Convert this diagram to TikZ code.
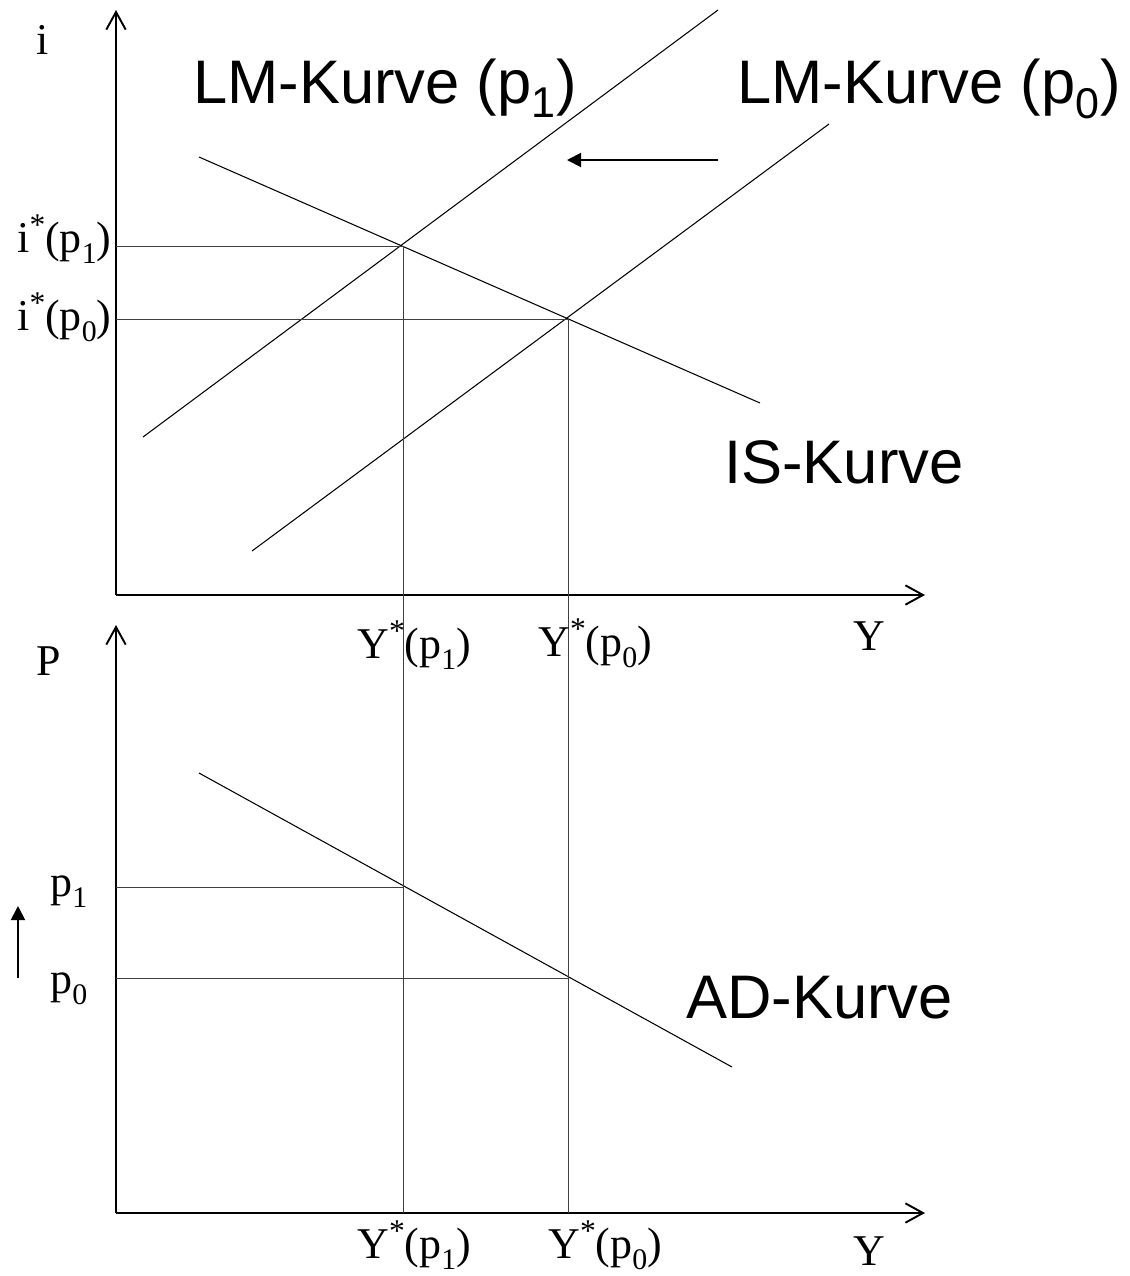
\documentclass[tikz,border=0pt]{standalone}
\usepackage{fontspec}
\setmainfont{Liberation Serif}
\newfontfamily\arialf{Liberation Sans}
\usetikzlibrary{arrows.meta}
\newcommand{\lowsub}[1]{\raisebox{-0.26em}{\fontsize{17}{17}\selectfont #1}}
\newcommand{\highstar}{\raisebox{0.38em}{\fontsize{18}{18}\selectfont *}}
\begin{document}
\begin{tikzpicture}[x=0.02cm,y=-0.02cm,
  axis/.style={line width=1.1pt,-{Straight Barb[length=10pt,width=11pt,line width=1.1pt]}},
  curve/.style={line width=0.6pt},
  guide/.style={line width=0.45pt,black!75},
  shiftarrow/.style={line width=1.1pt,-{Triangle[length=8pt,width=8pt]}},
  serif/.style={font=\fontsize{25}{28}\selectfont,inner sep=0pt,anchor=base west},
  sans/.style={font=\arialf\fontsize{35}{40}\selectfont,inner sep=0pt,anchor=base west}]
\useasboundingbox (0,0) rectangle (1130,1276);
% top panel
\coordinate (O1) at (116,595);
\coordinate (Yt) at (116,10);
\coordinate (Xt) at (925,595);
\draw[axis] (O1) -- (Yt);
\draw[axis] (O1) -- (Xt);
\coordinate (E1) at (403,246);
\coordinate (E0) at (568,319);
\coordinate (LMa) at (143,437);
\coordinate (LMb) at (718,10);
\coordinate (LNa) at (252,551);
\coordinate (LNb) at (829,124);
\coordinate (ISa) at (199,157);
\coordinate (ISb) at (760,403);
\draw[curve] (LMa) -- (LMb);
\draw[curve] (LNa) -- (LNb);
\draw[curve] (ISa) -- (ISb);
\coordinate (G1) at (116,246);
\coordinate (G0) at (116,319);
\draw[guide] (G1) -- (E1);
\draw[guide] (G0) -- (E0);
% bottom panel
\coordinate (O2) at (116,1213);
\coordinate (Yb) at (116,625);
\coordinate (Xb) at (925,1213);
\draw[axis] (O2) -- (Yb);
\draw[axis] (O2) -- (Xb);
\coordinate (ADa) at (199,773);
\coordinate (ADb) at (732,1067);
\draw[curve] (ADa) -- (ADb);
\coordinate (F1) at (403,887);
\coordinate (F0) at (568,978);
\coordinate (H1) at (116,887);
\coordinate (H0) at (116,978);
\draw[guide] (H1) -- (F1);
\draw[guide] (H0) -- (F0);
\coordinate (B1) at (403,1213);
\coordinate (B0) at (568,1213);
\draw[guide] (E1) -- (B1);
\draw[guide] (E0) -- (B0);
% shift arrows
\coordinate (SAa) at (718,160);
\coordinate (SAb) at (567,160);
\draw[shiftarrow] (SAa) -- (SAb);
\coordinate (PAa) at (18,978);
\coordinate (PAb) at (18,906);
\draw[shiftarrow] (PAa) -- (PAb);
% labels
\node[serif] (li) at (36,54) {i};
\node[serif] (li1) at (17,252) {i\highstar(p\lowsub{1})};
\node[serif] (li0) at (17,330) {i\highstar(p\lowsub{0})};
\node[serif] (ly1) at (357,658) {Y\highstar(p\lowsub{1})};
\node[serif] (ly0) at (538,656) {Y\highstar(p\lowsub{0})};
\node[serif] (lY) at (853,650) {Y};
\node[serif] (lP) at (36,675) {P};
\node[serif] (lp1) at (50,896) {p\lowsub{1}};
\node[serif] (lp0) at (50,993) {p\lowsub{0}};
\node[serif] (lz1) at (357,1258) {Y\highstar(p\lowsub{1})};
\node[serif] (lz0) at (548,1258) {Y\highstar(p\lowsub{0})};
\node[serif] (lY2) at (853,1265) {Y};
\node[sans] (lLM1) at (193,103) {LM-Kurve (p\textsubscript{1})};
\node[sans] (lLM0) at (737,103) {LM-Kurve (p\textsubscript{0})};
\node[sans] (lIS) at (724,483) {IS-Kurve};
\node[sans] (lAD) at (686,1018) {AD-Kurve};
\end{tikzpicture}
\end{document}
